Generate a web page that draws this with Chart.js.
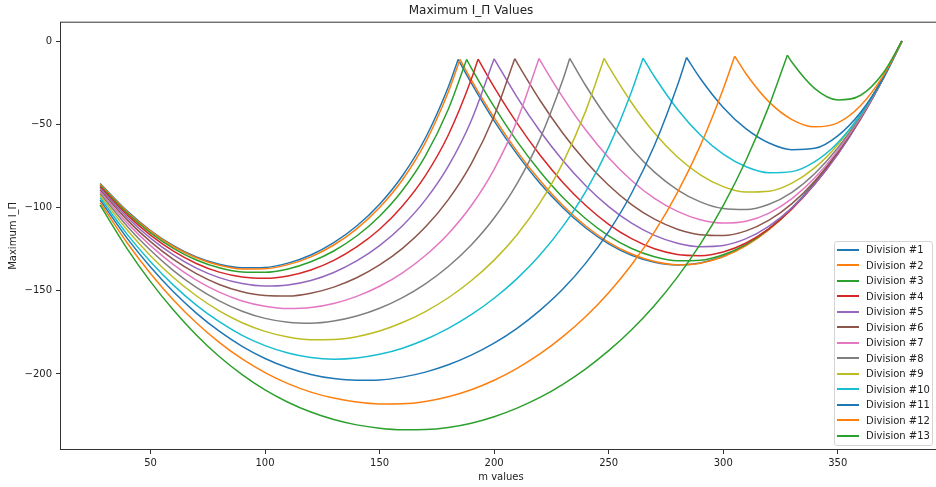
<!DOCTYPE html>
<html>
<head>
<meta charset="utf-8">
<title>Maximum I_Π Values</title>
<script src="https://cdn.jsdelivr.net/npm/chart.js@4.4.1/dist/chart.umd.min.js"></script>
<style>
  html, body { margin: 0; padding: 0; background: #fff; overflow: hidden; }
  #wrap { position: relative; width: 1000px; height: 487px; }
  #legend {
    position: absolute; left: 834px; top: 241px; width: 99px;
    padding: 0 0 1px 0; box-sizing: border-box;
    border: 1px solid #d4d4d4; border-radius: 3px;
    background: rgba(255, 255, 255, 0.8);
    font: 10px 'DejaVu Sans', sans-serif; color: #222;
  }
  .row { height: 15.5px; display: flex; align-items: center; white-space: nowrap; }
  .swatch { width: 22px; height: 2px; margin-left: 2px; margin-right: 7px; flex: none; }
</style>
</head>
<body>
<div id="wrap">
  <canvas id="chart" width="1000" height="487"></canvas>
  <div id="legend"></div>
</div>
<script>
const mValues = [28, 40, 50, 60, 70, 80, 90, 100, 110, 120, 130, 140, 150, 160, 170, 180, 190, 200,
                 210, 220, 230, 240, 250, 260, 270, 280, 290, 300, 310, 320, 330, 340, 350, 360, 370, 378];

// cusp (peak) of every division
const peakM = [184.3, 185.1, 188, 193, 200, 209, 219.6, 233, 248, 265, 284, 305, 328];
const peakV = [-11, -11, -11, -10.8, -10.6, -10.5, -10.4, -10.4, -10.4, -10.2, -9.8, -9, -8.4];

const division1 = [-85.5, -102.3, -113.8, -122.9, -129.7, -134.1, -136.2, -136.0, -133.4, -128.5, -121.1, -111.1, -98.0, -80.9, -58.2, -27.5, -25.1, -47.9, -67.9, -85.4, -100.1, -112.3, -121.8, -128.7, -132.9, -134.5, -133.3, -129.3, -122.5, -112.8, -100.2, -84.7, -66.4, -45.3, -21.3, 0];
const division2 = [-86, -102.8, -114.2, -123.4, -130.2, -134.7, -136.9, -136.8, -134.3, -129.6, -122.5, -112.8, -100.0, -83.3, -61.0, -30.6, -23.2, -46.0, -66.2, -83.8, -98.8, -111.1, -120.9, -127.9, -132.4, -134.3, -133.4, -129.6, -122.9, -113.3, -100.7, -85.3, -66.9, -45.6, -21.4, 0];
const division3 = [-86.7, -103.6, -115.2, -124.5, -131.5, -136.2, -138.7, -138.9, -136.9, -132.6, -126.1, -117.1, -105.2, -89.6, -68.9, -40.9, -16.0, -39.4, -60.2, -78.3, -93.9, -106.7, -117.0, -124.6, -129.6, -132.0, -131.7, -128.4, -122.1, -112.8, -100.5, -85.3, -67.0, -45.8, -21.5, 0];
const division4 = [-87.5, -104.7, -116.6, -126.2, -133.6, -138.8, -141.7, -142.5, -141.1, -137.5, -131.7, -123.6, -113.0, -99.0, -80.8, -56.4, -23.1, -27.6, -49.3, -68.4, -84.9, -98.8, -110.1, -118.7, -124.8, -128.2, -128.9, -126.7, -121.3, -112.7, -100.9, -85.9, -67.8, -46.4, -21.9, 0];
const division5 = [-88.4, -106.1, -118.4, -128.5, -136.4, -142.1, -145.7, -147.2, -146.5, -143.8, -139.0, -132.1, -122.9, -110.9, -95.4, -75.1, -47.8, -10.6, -33.6, -54.0, -71.7, -86.9, -99.4, -109.4, -116.7, -121.4, -123.5, -122.8, -118.7, -111.1, -100.2, -85.8, -68.0, -46.8, -22.2, 0];
const division6 = [-89.4, -107.7, -120.5, -131.2, -139.7, -146.2, -150.6, -152.9, -153.2, -151.5, -147.8, -142.2, -134.5, -124.5, -111.7, -95.2, -73.7, -45.0, -12.9, -35.5, -55.3, -72.3, -86.6, -98.2, -107.0, -113.0, -116.3, -116.8, -114.0, -107.6, -97.6, -84.0, -66.9, -46.2, -22.0, 0];
const division7 = [-90.5, -109.5, -122.9, -134.3, -143.6, -150.8, -156.1, -159.3, -160.7, -160.1, -157.7, -153.4, -147.3, -139.2, -128.8, -115.7, -98.9, -77.0, -47.9, -11.4, -33.8, -53.4, -70.0, -83.7, -94.5, -102.3, -107.3, -109.3, -108.2, -103.3, -94.6, -82.1, -65.8, -45.7, -21.8, 0];
const division8 = [-91.6, -111.5, -125.7, -137.9, -148.0, -156.1, -162.3, -166.6, -168.9, -169.5, -168.2, -165.2, -160.5, -154.1, -145.8, -135.4, -122.5, -106.3, -85.6, -58.7, -23.2, -26.8, -47.4, -64.7, -78.7, -89.3, -96.6, -100.6, -101.2, -98.0, -90.8, -79.5, -64.2, -44.9, -21.6, 0];
const division9 = [-92.8, -113.8, -128.9, -142.0, -153.0, -162.1, -169.2, -174.4, -177.8, -179.4, -179.3, -177.6, -174.2, -169.1, -162.5, -154.2, -144.0, -131.6, -116.3, -97.2, -73.1, -41.9, -15.2, -37.0, -55.2, -69.6, -80.3, -87.4, -90.7, -90.2, -85.3, -76.0, -62.2, -44.0, -21.3, 0];
const division10 = [-94.1, -116.4, -132.5, -146.6, -158.6, -168.6, -176.8, -183.0, -187.4, -190.1, -191.1, -190.4, -188.2, -184.5, -179.3, -172.6, -164.4, -154.5, -142.7, -128.5, -111.3, -90.2, -63.7, -30.2, -21.4, -40.9, -56.4, -67.9, -75.5, -79.1, -78.4, -72.4, -61.0, -44.1, -21.8, 0];
const division11 = [-95.5, -118.8, -135.7, -150.6, -163.4, -174.3, -183.4, -190.7, -196.3, -200.3, -202.8, -203.8, -203.6, -201.9, -198.9, -194.5, -188.7, -181.5, -172.6, -161.8, -149.0, -133.4, -114.5, -91.4, -62.6, -26.7, -22.4, -39.8, -52.7, -61.2, -65.2, -64.4, -56.9, -42.7, -21.7, 0];
const division12 = [-97, -121.6, -139.6, -155.5, -169.2, -181.0, -191.0, -199.2, -205.8, -210.9, -214.5, -216.9, -218.0, -217.9, -216.5, -213.7, -209.5, -203.8, -196.6, -188.0, -177.6, -165.5, -151.2, -134.4, -114.6, -91.0, -62.8, -28.7, -19.7, -36.5, -47.1, -51.5, -49.1, -38.7, -20.4, 0];
const division13 = [-98.5, -125.1, -144.5, -161.6, -176.6, -189.5, -200.4, -209.6, -217.0, -222.9, -227.4, -230.6, -232.6, -233.5, -233.4, -232.2, -229.6, -225.7, -220.5, -214.1, -206.2, -196.9, -186.0, -173.4, -158.8, -141.8, -122.0, -98.8, -71.4, -38.9, -12.7, -28.5, -35.3, -32.5, -18.8, 0];

const divisions = [division1, division2, division3, division4, division5, division6, division7,
                   division8, division9, division10, division11, division12, division13];
const labels = divisions.map((d, i) => 'Division #' + (i + 1));

// matplotlib tab10 cycle
const colors = ['#1f77b4', '#ff7f0e', '#2ca02c', '#d62728', '#9467bd', '#8c564b', '#e377c2',
                '#7f7f7f', '#bcbd22', '#17becf', '#1f77b4', '#ff7f0e', '#2ca02c'];

Chart.defaults.font.family = "'DejaVu Sans', sans-serif";
Chart.defaults.color = '#222';

// each curve is split at its cusp so the smoothing keeps the sharp peak
const datasets = [];
divisions.forEach((vals, i) => {
    const left = [];
    const right = [];
    mValues.forEach((m, n) => {
        if (m < peakM[i]) left.push({x: m, y: vals[n]});
        else if (m > peakM[i]) right.push({x: m, y: vals[n]});
    });
    const top = {x: peakM[i], y: peakV[i]};
    left.push(top);
    right.unshift(top);
    [left, right].forEach(part => {
        datasets.push({
            label: labels[i],
            data: part,
            borderColor: colors[i],
            borderWidth: 1.5,
            pointRadius: 0,
            fill: false,
            cubicInterpolationMode: 'monotone',
            order: divisions.length - i
        });
    });
});

function minusSign(v) {
    return v < 0 ? '\u2212' + Math.abs(v) : String(v);
}

const frame = {
    id: 'frame',
    afterDatasetsDraw(chart) {
        const {ctx, chartArea: a} = chart;
        ctx.save();
        ctx.strokeStyle = '#333';
        ctx.lineWidth = 1;
        ctx.strokeRect(a.left + 0.5, a.top + 0.5, a.width - 1, a.height - 1);
        ctx.restore();
    }
};

new Chart(document.getElementById('chart'), {
    type: 'line',
    data: {datasets: datasets},
    options: {
        responsive: false,
        animation: false,
        layout: {padding: {left: 0, right: 58, top: 0, bottom: 0}},
        plugins: {
            legend: {display: false},
            tooltip: {enabled: false},
            title: {
                display: true,
                text: 'Maximum I_Π Values',
                font: {size: 12, weight: 'normal'},
                color: '#222',
                padding: {top: 4, bottom: 3.3}
            }
        },
        scales: {
            x: {
                type: 'linear',
                min: 10.5,
                max: 395.5,
                afterFit: s => { s.height = 37; },
                border: {display: false},
                grid: {display: true, drawOnChartArea: false, drawTicks: true, tickLength: 4, color: '#333'},
                ticks: {stepSize: 50, includeBounds: false, font: {size: 10}, color: '#222', padding: 3, maxRotation: 0, callback: minusSign},
                title: {display: true, text: 'm values', font: {size: 10}, color: '#222', padding: {top: 0, bottom: 4}}
            },
            y: {
                type: 'linear',
                min: -245.7,
                max: 11.7,
                afterFit: s => { s.width = 60; },
                border: {display: false},
                grid: {display: true, drawOnChartArea: false, drawTicks: true, tickLength: 4, color: '#333'},
                ticks: {stepSize: 50, includeBounds: false, font: {size: 10}, color: '#222', padding: 4, callback: minusSign},
                title: {display: true, text: 'Maximum I_Π', font: {size: 10}, color: '#222', padding: {top: 7, bottom: 0}}
            }
        }
    },
    plugins: [frame]
});

// legend box in the lower right corner of the plot, as in the original
const legendBox = document.getElementById('legend');
labels.forEach((text, i) => {
    const row = document.createElement('div');
    row.className = 'row';
    const swatch = document.createElement('span');
    swatch.className = 'swatch';
    swatch.style.background = colors[i];
    const label = document.createElement('span');
    label.textContent = text;
    row.appendChild(swatch);
    row.appendChild(label);
    legendBox.appendChild(row);
});
</script>
</body>
</html>
